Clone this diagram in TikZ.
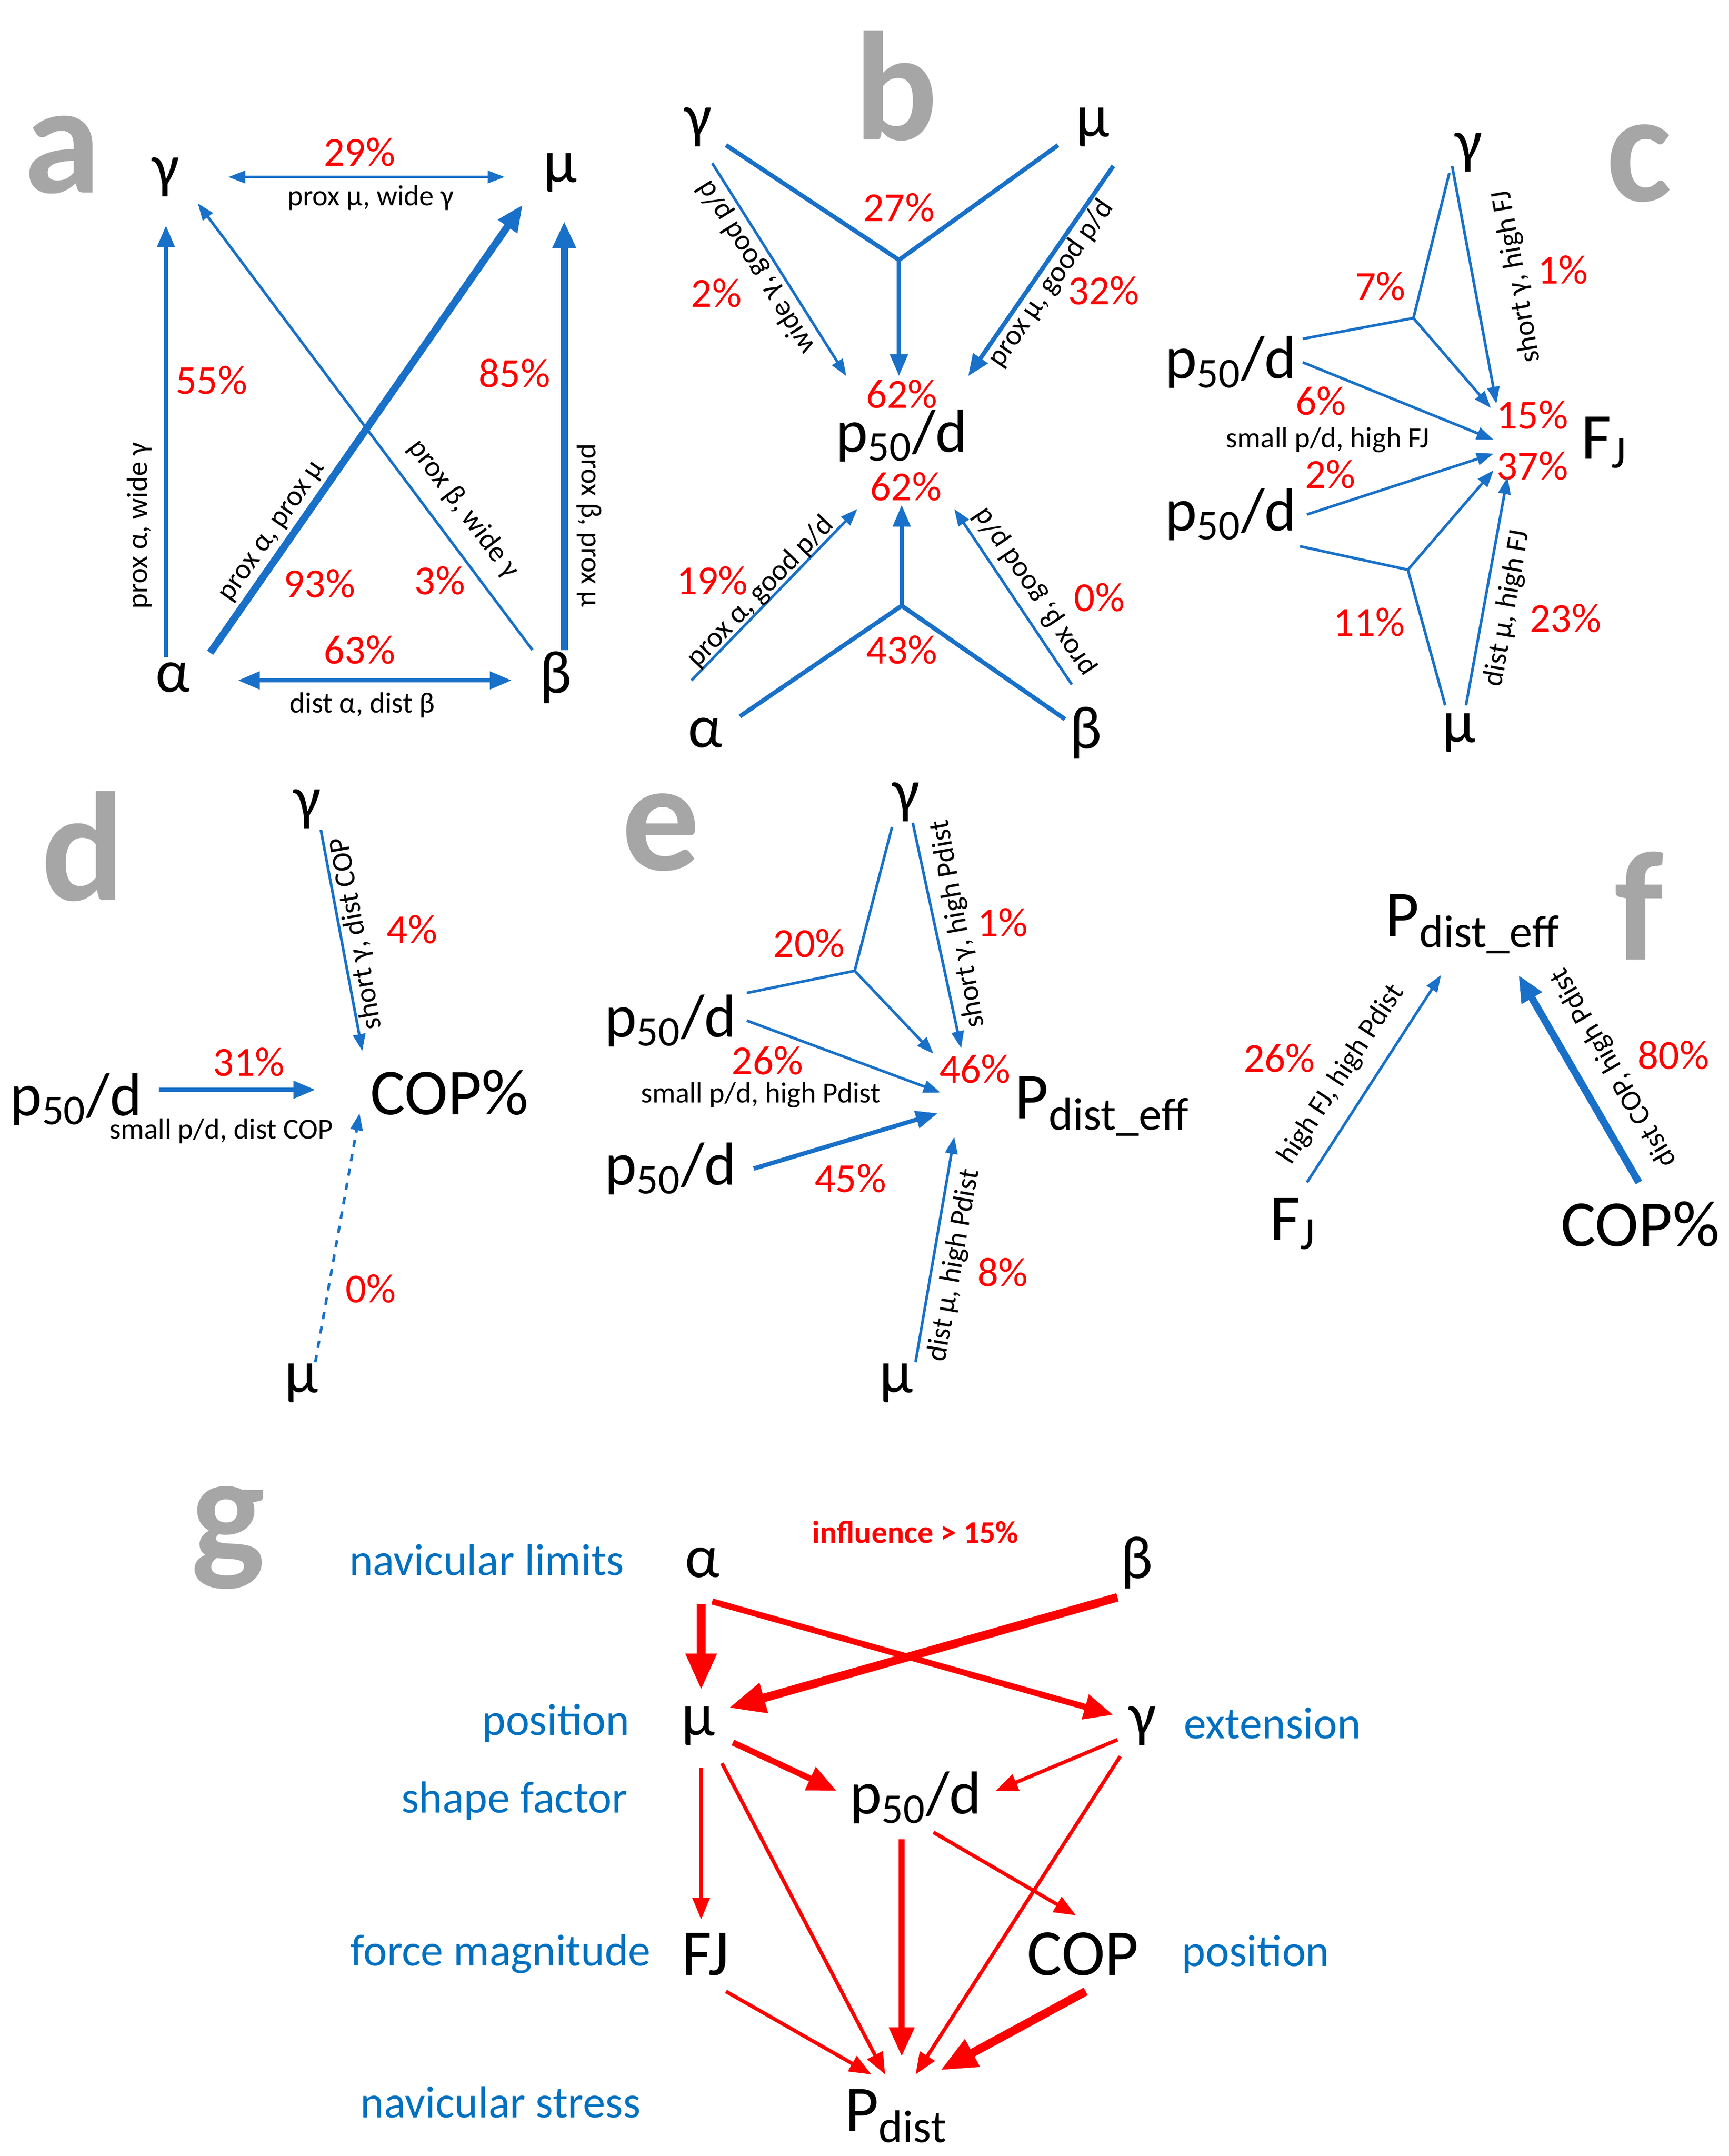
\documentclass[tikz,border=0pt]{standalone}
\usepackage{fontspec}
\setmainfont{Carlito}
\usetikzlibrary{arrows.meta}
\definecolor{bl}{RGB}{24,112,200}
\definecolor{tb}{RGB}{0,112,192}
\definecolor{rd}{RGB}{255,0,0}
\definecolor{gr}{RGB}{166,166,166}
\newcommand{\pd}{p\textsubscript{50}/d}
\begin{document}
\begin{tikzpicture}[x=0.02cm,y=-0.02cm,
 pan/.style={text=gr,font=\fontsize{64}{64}\selectfont\bfseries},
 gk/.style={font=\fontsize{25}{25}\selectfont},
 big/.style={font=\fontsize{27}{27}\selectfont},
 pc/.style={text=rd,font=\fontsize{17}{17}\selectfont},
 sm/.style={font=\fontsize{12}{12}\selectfont,inner sep=1pt},
 tbl/.style={text=tb,font=\fontsize{18.5}{18.5}\selectfont},
 a1/.style={draw=bl,line width=1.1pt,-{Triangle[length=7pt,width=5pt]}},
 a2/.style={draw=bl,line width=1.8pt,-{Triangle[length=9pt,width=7pt]}},
 a3/.style={draw=bl,line width=3pt,-{Triangle[length=11pt,width=9pt]}},
 l1/.style={draw=bl,line width=1.1pt},
 l2/.style={draw=bl,line width=1.8pt},
 r1/.style={draw=rd,line width=1.5pt,-{Triangle[length=9pt,width=7pt]}},
 r2/.style={draw=rd,line width=2.5pt,-{Triangle[length=12pt,width=10pt]}},
 r3/.style={draw=rd,line width=3.5pt,-{Triangle[length=15pt,width=12pt]}}]
\useasboundingbox (0,0) rectangle (1250,1559);
% ---------- a
\node[pan] (la) at (45,112) {a};
\node[gk] (ag) at (120,128) {γ};
\node[gk] (am) at (405,125) {μ};
\node[gk] (aa) at (125,490) {α};
\node[gk] (ab) at (402,490) {β};
\coordinate (a1s) at (165,128); \coordinate (a1e) at (365,128);
\draw[a1,{Triangle[length=7pt,width=5pt]}-{Triangle[length=7pt,width=5pt]}] (a1s) -- (a1e);
\node[pc] at (260,110) {29\%}; \node[sm] at (268,143) {prox μ, wide γ};
\coordinate (a2s) at (120,475); \coordinate (a2e) at (120,163);
\draw[a2] (a2s) -- (a2e);
\node[sm,rotate=90] at (101,380) {prox α, wide γ}; \node[pc] at (153,275) {55\%};
\coordinate (a3s) at (408,470); \coordinate (a3e) at (408,160);
\draw[a3] (a3s) -- (a3e);
\node[pc] at (372,270) {85\%}; \node[sm,rotate=-90] at (426,380) {prox β, prox μ};
\coordinate (a4s) at (152,472); \coordinate (a4e) at (378,148);
\draw[a3] (a4s) -- (a4e);
\node[sm,rotate=55] at (198,385) {prox α, prox μ}; \node[pc] at (231,422) {93\%};
\coordinate (a5s) at (385,470); \coordinate (a5e) at (143,147);
\draw[a1] (a5s) -- (a5e);
\node[sm,rotate=-53] at (335,368) {prox β, wide γ}; \node[pc] at (318,420) {3\%};
\coordinate (a6s) at (172,492); \coordinate (a6e) at (370,492);
\draw[a2,{Triangle[length=9pt,width=7pt]}-{Triangle[length=9pt,width=7pt]}] (a6s) -- (a6e);
\node[pc] at (260,470) {63\%}; \node[sm] at (262,510) {dist α, dist β};
% ---------- b
\node[pan] (lb) at (648,62) {b};
\node[gk] (bg) at (505,92) {γ};
\node[gk] (bm) at (790,92) {μ};
\node[gk] (bp) at (652,315) {\pd};
\node[pc] at (652,285) {62\%}; \node[pc] at (655,352) {62\%};
\coordinate (bj1) at (650,188);
\coordinate (bg1) at (525,105); \coordinate (bm1) at (765,105); \coordinate (bp1) at (650,272);
\draw[l2] (bg1) -- (bj1) -- (bm1); \draw[a2] (bj1) -- (bp1);
\node[pc] at (650,150) {27\%};
\coordinate (bg2) at (515,118); \coordinate (bp2) at (612,272);
\draw[a1] (bg2) -- (bp2);
\node[sm,rotate=122] at (547,193) {wide γ, good p/d}; \node[pc] at (518,212) {2\%};
\coordinate (bm2) at (805,120); \coordinate (bp3) at (700,272);
\draw[a2] (bm2) -- (bp3);
\node[sm,rotate=55] at (760,205) {prox μ, good p/d}; \node[pc] at (798,210) {32\%};
\coordinate (bj2) at (652,438);
\coordinate (ba1) at (535,518); \coordinate (bb1) at (770,520); \coordinate (bp4) at (652,365);
\draw[l2] (ba1) -- (bj2) -- (bb1); \draw[a2] (bj2) -- (bp4);
\node[pc] at (652,470) {43\%};
\coordinate (ba2) at (500,492); \coordinate (bp5) at (620,368);
\draw[a1] (ba2) -- (bp5);
\node[sm,rotate=46] at (550,428) {prox α, good p/d}; \node[pc] at (515,420) {19\%};
\coordinate (bb2) at (775,495); \coordinate (bp6) at (690,368);
\draw[a1] (bb2) -- (bp6);
\node[sm,rotate=124] at (748,428) {prox β, good p/d}; \node[pc] at (795,432) {0\%};
\node[gk] (ba) at (510,530) {α};
\node[gk] (bb) at (785,530) {β};
% ---------- c
\node[pan] (lc) at (1185,118) {c};
\node[gk] (cg) at (1062,110) {γ};
\node[gk] (cm) at (1055,530) {μ};
\node[big] (cf) at (1160,320) {F\textsubscript{J}};
\node[gk] (cp1) at (890,262) {\pd};
\node[gk] (cp2) at (890,372) {\pd};
\node[pc] at (1108,300) {15\%}; \node[pc] at (1108,337) {37\%};
\coordinate (cj1) at (1022,230); \coordinate (cp1a) at (942,245); \coordinate (cg1) at (1048,125); \coordinate (cf1) at (1078,295);
\draw[l1] (cp1a) -- (cj1) -- (cg1); \draw[a1] (cj1) -- (cf1);
\node[pc] at (998,207) {7\%};
\coordinate (cg2) at (1050,120); \coordinate (cf2) at (1082,292);
\draw[a1] (cg2) -- (cf2);
\node[sm,rotate=100] at (1097,200) {short γ, high FJ}; \node[pc] at (1130,195) {1\%};
\coordinate (cp1b) at (942,262); \coordinate (cf3) at (1080,318);
\draw[a1] (cp1b) -- (cf3);
\node[pc] at (955,290) {6\%}; \node[sm] at (960,318) {small p/d, high FJ};
\coordinate (cp2a) at (945,372); \coordinate (cf4) at (1080,328);
\draw[a1] (cp2a) -- (cf4); \node[pc] at (962,343) {2\%};
\coordinate (cj2) at (1018,412); \coordinate (cp2b) at (940,395); \coordinate (cm1) at (1045,510); \coordinate (cf5) at (1080,340);
\draw[l1] (cp2b) -- (cj2) -- (cm1); \draw[a1] (cj2) -- (cf5);
\node[pc] at (990,450) {11\%};
\coordinate (cm2) at (1060,510); \coordinate (cf6) at (1090,345);
\draw[a1] (cm2) -- (cf6);
\node[sm,rotate=80] at (1090,440) {dist μ, high FJ}; \node[pc] at (1132,447) {23\%};
% ---------- d
\node[pan] (ld) at (60,612) {d};
\node[gk] (dg) at (222,585) {γ};
\node[gk] (dm) at (218,1000) {μ};
\node[big] (dc) at (325,790) {COP\%};
\node[gk] (dp) at (55,795) {\pd};
\coordinate (dg1) at (232,600); \coordinate (dc1) at (262,760);
\draw[a1] (dg1) -- (dc1);
\node[sm,rotate=100] at (258,675) {short γ, dist COP}; \node[pc] at (298,672) {4\%};
\coordinate (dp1) at (115,788); \coordinate (dc2) at (228,788);
\draw[a2] (dp1) -- (dc2);
\node[pc] at (180,768) {31\%}; \node[sm] at (160,818) {small p/d, dist COP};
\coordinate (dm1) at (228,985); \coordinate (dc3) at (260,805);
\draw[a1,dashed] (dm1) -- (dc3); \node[pc] at (268,932) {0\%};
% ---------- e
\node[pan] (le) at (478,602) {e};
\node[gk] (eg) at (655,580) {γ};
\node[gk] (em) at (648,1000) {μ};
\node[big] (ep) at (797,800) {P\textsubscript{dist\_eff}};
\node[gk] (ep1) at (485,738) {\pd};
\node[gk] (ep2) at (485,845) {\pd};
\coordinate (ej) at (618,702); \coordinate (ep1a) at (540,718); \coordinate (eg1) at (645,598); \coordinate (ee1) at (675,762);
\draw[l1] (ep1a) -- (ej) -- (eg1); \draw[a1] (ej) -- (ee1);
\node[pc] at (585,682) {20\%};
\coordinate (eg2) at (660,595); \coordinate (ee2) at (695,758);
\draw[a1] (eg2) -- (ee2);
\node[sm,rotate=100] at (693,668) {short γ, high Pdist}; \node[pc] at (725,667) {1\%};
\coordinate (ep1b) at (540,738); \coordinate (ee3) at (680,790);
\draw[a1] (ep1b) -- (ee3);
\node[pc] at (555,767) {26\%}; \node[sm] at (550,792) {small p/d, high Pdist};
\coordinate (ep2a) at (545,845); \coordinate (ee4) at (678,805);
\draw[a2] (ep2a) -- (ee4); \node[pc] at (615,852) {45\%};
\coordinate (em1) at (662,985); \coordinate (ee5) at (690,822);
\draw[a1] (em1) -- (ee5);
\node[sm,rotate=80] at (690,915) {dist μ, high Pdist}; \node[pc] at (725,920) {8\%};
\node[pc] at (705,773) {46\%};
% ---------- f
\node[pan] (lf) at (1185,655) {f};
\node[big] (fp) at (1065,668) {P\textsubscript{dist\_eff}};
\node[big] (ff) at (935,885) {F\textsubscript{J}};
\node[big] (fc) at (1186,885) {COP\%};
\coordinate (ff1) at (945,855); \coordinate (fp1) at (1042,705);
\draw[a1] (ff1) -- (fp1);
\node[sm,rotate=57] at (970,777) {high FJ, high Pdist}; \node[pc] at (925,765) {26\%};
\coordinate (fc1) at (1185,855); \coordinate (fp2) at (1098,705);
\draw[a3] (fc1) -- (fp2);
\node[sm,rotate=120] at (1167,772) {dist COP, high Pdist}; \node[pc] at (1210,763) {80\%};
% ---------- g
\node[pan] (lg) at (165,1112) {g};
\node[text=rd,font=\fontsize{13}{13}\selectfont\bfseries] (inf) at (662,1108) {influence > 15\%};
\node[tbl] at (352,1128) {navicular limits};
\node[tbl] at (402,1246) {position};
\node[tbl] at (372,1302) {shape factor};
\node[tbl] at (362,1413) {force magnitude};
\node[tbl] at (362,1520) {navicular stress};
\node[tbl] at (920,1246) {extension};
\node[tbl] at (908,1413) {position};
\node[gk] (ga) at (508,1130) {α};
\node[gk] (gb) at (822,1130) {β};
\node[gk] (gm) at (505,1248) {μ};
\node[gk] (gg) at (826,1248) {γ};
\node[gk] (gp) at (662,1300) {\pd};
\node[big] (gf) at (510,1413) {FJ};
\node[big] (gc) at (783,1413) {COP};
\node[big] (gd) at (648,1530) {P\textsubscript{dist}};
\coordinate (g1) at (507,1160); \coordinate (g2) at (507,1222);
\draw[r3] (g1) -- (g2);
\coordinate (g3) at (515,1158); \coordinate (g4) at (805,1240);
\draw[r2] (g3) -- (g4);
\coordinate (g5) at (808,1155); \coordinate (g6) at (527,1235);
\draw[r3] (g5) -- (g6);
\coordinate (g7) at (530,1260); \coordinate (g8) at (605,1295);
\draw[r2] (g7) -- (g8);
\coordinate (g9) at (808,1258); \coordinate (g10) at (720,1295);
\draw[r1] (g9) -- (g10);
\coordinate (g11) at (507,1278); \coordinate (g12) at (507,1388);
\draw[r1] (g11) -- (g12);
\coordinate (g13) at (522,1275); \coordinate (g14) at (640,1500);
\draw[r1] (g13) -- (g14);
\coordinate (g15) at (810,1270); \coordinate (g16) at (662,1500);
\draw[r1] (g15) -- (g16);
\coordinate (g17) at (652,1330); \coordinate (g18) at (652,1487);
\draw[r2] (g17) -- (g18);
\coordinate (g19) at (675,1325); \coordinate (g20) at (778,1385);
\draw[r1] (g19) -- (g20);
\coordinate (g21) at (525,1440); \coordinate (g22) at (630,1500);
\draw[r1] (g21) -- (g22);
\coordinate (g23) at (785,1440); \coordinate (g24) at (680,1497);
\draw[r3] (g23) -- (g24);
\end{tikzpicture}
\end{document}
